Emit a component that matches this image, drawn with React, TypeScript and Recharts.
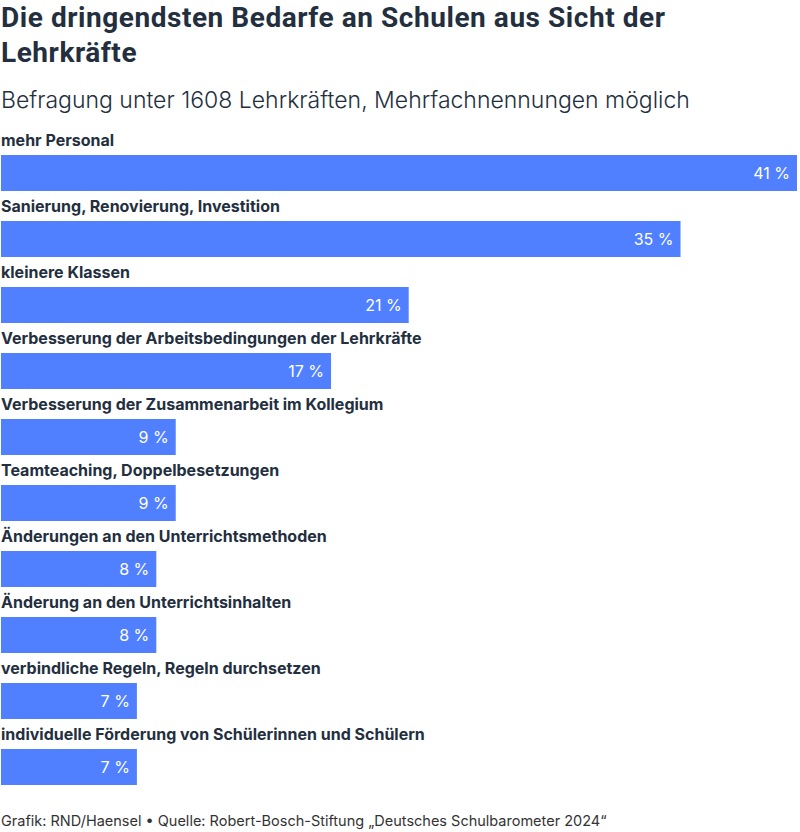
import React from 'react';
import { BarChart, Bar, XAxis, YAxis, LabelList } from 'recharts';

const categories = [
  'mehr Personal',
  'Sanierung, Renovierung, Investition',
  'kleinere Klassen',
  'Verbesserung der Arbeitsbedingungen der Lehrkräfte',
  'Verbesserung der Zusammenarbeit im Kollegium',
  'Teamteaching, Doppelbesetzungen',
  'Änderungen an den Unterrichtsmethoden',
  'Änderung an den Unterrichtsinhalten',
  'verbindliche Regeln, Regeln durchsetzen',
  'individuelle Förderung von Schülerinnen und Schülern',
];
const values = [41, 35, 21, 17, 9, 9, 8, 8, 7, 7];

const data = categories.map((name, i) => ({ name, value: values[i] }));

const TEXT = '#232f3e';
const BLUE = '#5080ff';

// category name drawn above each bar
const NameLabel = (props: any) => {
  const { x, y, index } = props;
  return (
    <text
      x={x}
      y={y - 9}
      fill={TEXT}
      fontFamily="Inter"
      fontWeight={700}
      fontSize={16}
    >
      {categories[index]}
    </text>
  );
};

const ValueLabel = (props: any) => {
  const { x, y, width, height, value } = props;
  return (
    <text
      x={x + width - 7}
      y={y + height / 2 + 6}
      textAnchor="end"
      fill="#ffffff"
      fontFamily="Inter"
      fontSize={16}
    >
      {value} %
    </text>
  );
};

export default function App() {
  return (
    <div style={{ position: 'absolute', left: 0, top: 0, width: 800, height: 832, background: '#fff', overflow: 'hidden' }}>
      <div
        style={{
          position: 'absolute',
          left: 1,
          top: 0,
          width: 790,
          fontFamily: 'Roboto',
          fontWeight: 700,
          fontSize: 28,
          lineHeight: '35px',
          color: TEXT,
          letterSpacing: 0.55,
        }}
      >
        Die dringendsten Bedarfe an Schulen aus Sicht der
        <br />
        Lehrkräfte
      </div>
      <div
        style={{
          position: 'absolute',
          left: 1,
          top: 84,
          fontFamily: 'Inter',
          fontWeight: 300,
          fontSize: 23,
          lineHeight: '32px',
          color: TEXT,
          whiteSpace: 'nowrap',
        }}
      >
        Befragung unter 1608 Lehrkräften, Mehrfachnennungen möglich
      </div>
      <div style={{ position: 'absolute', left: 0, top: 100 }}>
        <BarChart
          width={800}
          height={700}
          data={data}
          layout="vertical"
          margin={{ top: 40, right: 3, bottom: 0, left: 1 }}
        >
          <XAxis type="number" domain={[0, 41]} hide />
          <YAxis type="category" dataKey="name" hide />
          <Bar dataKey="value" fill={BLUE} barSize={36} isAnimationActive={false}>
            <LabelList dataKey="name" content={<NameLabel />} />
            <LabelList dataKey="value" content={<ValueLabel />} />
          </Bar>
        </BarChart>
      </div>
      <div
        style={{
          position: 'absolute',
          left: 1,
          top: 811,
          fontFamily: 'Inter',
          fontWeight: 400,
          fontSize: 14.5,
          lineHeight: '20px',
          color: '#333',
          whiteSpace: 'nowrap',
        }}
      >
        Grafik: RND/Haensel • Quelle: Robert-Bosch-Stiftung „Deutsches Schulbarometer 2024“
      </div>
    </div>
  );
}
